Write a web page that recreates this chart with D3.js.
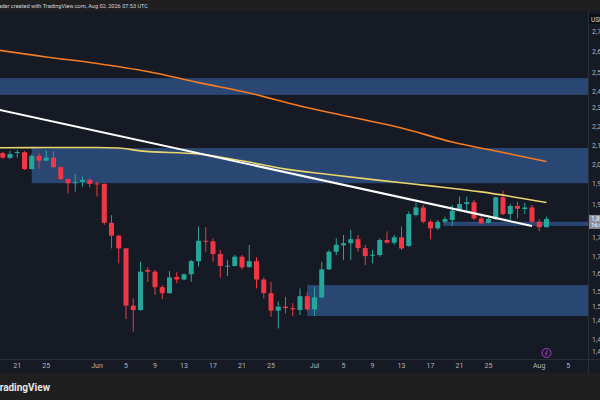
<!DOCTYPE html>
<html>
<head>
<meta charset="utf-8">
<script src="https://cdn.jsdelivr.net/npm/d3@7"></script>
<style>
  body { margin: 0; background: #1e1e1e; }
  svg { display: block; font-family: Roboto, "Liberation Sans", sans-serif; }
</style>
</head>
<body>
<div id="chart"></div>
<script>
// daily candles, May 19 – Aug 2 2026
const firstDay = '2026-05-19', lastDay = '2026-08-02';
const opens  = [2125,2104,2127,2129,2055,2113,2092,2105,2063,2012,1997,2001,2009,
                1994,1992,1836,1787,1740,1543,1529,1663,1657,1604,1584,1639,1630,1648,1694,1768,1766,
                1720,1677,1677,1710,1673,1694,1630,1584,1527,1540,1535,1529,1574,
                1531,1570,1665,1728,1751,1759,1774,1741,1716,1716,1771,1761,1781,1749,1866,1896,1840,
                1815,1840,1847,1883,1910,1917,1853,1836,1850,1937,1870,1902,1890,1896,
                1840,1819];
const highs  = [2130,2134,2139,2134,2120,2125,2139,2134,2066,2014,2033,2023,2016,
                2002,1994,1866,1790,1742,1567,1692,1673,1663,1611,1659,1655,1651,1698,1822,1819,1777,
                1734,1698,1716,1716,1753,1708,1637,1622,1556,1572,1551,1600,1586,
                1606,1692,1734,1777,1790,1809,1790,1753,1734,1777,1803,1790,1822,1880,1915,1906,1847,
                1847,1860,1906,1940,1940,1926,1870,1857,1940,1964,1910,1919,1915,1906,
                1850,1860];
const lows   = [2099,2099,2105,2051,2054,2058,2090,2058,2009,1953,1960,1981,1977,
                1940,1828,1740,1686,1500,1461,1526,1622,1578,1564,1582,1617,1628,1622,1675,1728,1692,
                1637,1642,1675,1665,1671,1600,1567,1507,1471,1518,1510,1513,1527,
                1510,1567,1663,1716,1698,1698,1728,1680,1686,1710,1758,1753,1734,1746,1860,1834,1774,
                1809,1834,1824,1880,1880,1847,1832,1834,1847,1866,1847,1853,1870,1836,
                1804,1819];
const closes = [2105,2121,2130,2055,2113,2092,2105,2063,2012,1995,1999,2009,1992,
                1990,1836,1787,1740,1543,1529,1657,1657,1604,1584,1637,1630,1648,1694,1768,1764,1720,
                1677,1678,1710,1672,1694,1630,1584,1527,1540,1535,1531,1574,1531,
                1570,1665,1728,1753,1759,1774,1741,1712,1717,1771,1761,1781,1740,1870,1896,1840,1815,
                1840,1850,1883,1910,1917,1853,1834,1851,1937,1870,1902,1891,1896,1840,
                1819,1851];

// moving averages, read at a few dates
const slowMaDates = ['2026-05-15','2026-05-25','2026-06-01','2026-06-08','2026-06-15','2026-06-22',
                     '2026-06-29','2026-07-06','2026-07-13','2026-07-20','2026-07-27','2026-08-02'];
const slowMaVals  = [2658,2600,2565,2522,2464,2411,2346,2292,2240,2175,2128,2088];
const fastMaDates = ['2026-05-15','2026-05-25','2026-06-01','2026-06-04','2026-06-07','2026-06-15',
                     '2026-06-21','2026-06-27','2026-07-03','2026-07-10','2026-07-17','2026-07-24','2026-08-02'];
const fastMaVals  = [2148,2150,2150,2148,2135,2121,2091,2055,2032,2007,1984,1959,1916];

// trend line
const trendDates = ['2026-05-15','2026-07-31'];
const trendVals  = [2354,1824];

// zones (extend right)
const zoneStarts  = ['2026-05-01','2026-05-23','2026-07-18T18:00Z','2026-06-30'];
const zoneTops    = [2487,2148,1840,1611];
const zoneBottoms = [2401,1995,1824,1510];

const yTicks = [2740,2630,2519,2418,2339,2246,2157,2073,1992,1906,1779,1709,1652,1588,1540,1495,1436,1400];
const xTicks = ['2026-05-21','2026-05-25','2026-06-01','2026-06-05','2026-06-09','2026-06-13','2026-06-17',
                '2026-06-21','2026-06-25','2026-07-01','2026-07-05','2026-07-09','2026-07-13','2026-07-17',
                '2026-07-21','2026-07-25','2026-08-01','2026-08-05'];

const W = 600, H = 400;
const P = { left: 0, right: 588, top: 11, bottom: 359 };
const UP = '#26a69a', DN = '#f23645', BG = '#161a25';

const svg = d3.select('#chart').append('svg').attr('width', W).attr('height', H);

svg.append('rect').attr('width', W).attr('height', H).attr('fill', BG);
svg.append('rect').attr('width', W).attr('height', P.top).attr('fill', '#1f1f1f');
svg.append('rect').attr('y', 373).attr('width', W).attr('height', H - 373).attr('fill', '#1f1f1f');

const x = d3.scaleUtc().domain([new Date('2026-06-01'), new Date('2026-08-01')]).range([97, 539.25]);
const y = d3.scaleLog().domain([1400, 2740]).range([352, 32]);

const days = d3.utcDay.range(new Date(firstDay), d3.utcDay.offset(new Date(lastDay), 1));
const bars = days.map((d, i) => ({ date: d, o: opens[i], h: highs[i], l: lows[i], c: closes[i] }));

svg.append('clipPath').attr('id', 'plot-clip').append('rect')
  .attr('x', P.left).attr('y', P.top).attr('width', P.right - P.left).attr('height', P.bottom - P.top);
const plot = svg.append('g').attr('clip-path', 'url(#plot-clip)');

// zones
zoneStarts.forEach((s, i) => {
  const x0 = x(new Date(s));
  plot.append('rect')
    .attr('x', x0).attr('width', P.right - x0)
    .attr('y', y(zoneTops[i])).attr('height', y(zoneBottoms[i]) - y(zoneTops[i]))
    .attr('fill', '#3d6bb3').attr('fill-opacity', .55);
});

// candles
const bw = 5;
plot.selectAll('.wick').data(bars).join('line').attr('class', 'wick')
  .attr('x1', d => x(d.date)).attr('x2', d => x(d.date))
  .attr('y1', d => y(d.h)).attr('y2', d => y(d.l))
  .attr('stroke', d => d.c >= d.o ? UP : DN).attr('stroke-width', 1);
plot.selectAll('.body').data(bars).join('rect').attr('class', 'body')
  .attr('x', d => x(d.date) - bw / 2).attr('width', bw)
  .attr('y', d => y(Math.max(d.o, d.c)))
  .attr('height', d => Math.max(1, Math.abs(y(d.o) - y(d.c))))
  .attr('fill', d => d.c >= d.o ? UP : DN);

// MAs + trend line
const line = d3.line().x(d => x(d[0])).y(d => y(d[1])).curve(d3.curveMonotoneX);
plot.append('path').datum(slowMaDates.map((d, i) => [new Date(d), slowMaVals[i]]))
  .attr('fill', 'none').attr('stroke', '#f57c20').attr('stroke-width', 1.6).attr('d', line);
plot.append('path').datum(fastMaDates.map((d, i) => [new Date(d), fastMaVals[i]]))
  .attr('fill', 'none').attr('stroke', '#e8d56e').attr('stroke-width', 1.6).attr('d', line);
plot.append('path').datum(trendDates.map((d, i) => [new Date(d), trendVals[i]]))
  .attr('fill', 'none').attr('stroke', '#ffffff').attr('stroke-width', 2)
  .attr('d', d3.line().x(d => x(d[0])).y(d => y(d[1])));

// events icon
const ex = x(new Date(lastDay)), ey = 353;
svg.append('circle').attr('cx', ex).attr('cy', ey).attr('r', 4.5)
  .attr('fill', '#1d1527').attr('stroke', '#a13fcf').attr('stroke-width', 1);
svg.append('path').attr('d', `M${ex + 1},${ey - 3}L${ex - 1.2},${ey + .3}L${ex + 1},${ey + .3}L${ex - 1},${ey + 3}`)
  .attr('fill', 'none').attr('stroke', '#a13fcf').attr('stroke-width', .8);

// borders
svg.append('line').attr('x1', P.right + .5).attr('x2', P.right + .5).attr('y1', P.top).attr('y2', 373)
  .attr('stroke', '#2a2e39');
svg.append('line').attr('x1', 0).attr('x2', W).attr('y1', P.bottom + .5).attr('y2', P.bottom + .5)
  .attr('stroke', '#2a2e39');

// price axis
const fmt = d3.format(',.2f');
svg.append('g').selectAll('text').data(yTicks).join('text')
  .attr('x', 592).attr('y', d => y(d)).attr('dy', '0.35em')
  .attr('fill', '#b2b5be').attr('font-size', 7).text(d => fmt(d));
svg.append('rect').attr('x', 589).attr('y', 14).attr('width', 14).attr('height', 10).attr('fill', '#0c0e14');
svg.append('text').attr('x', 591).attr('y', 21.5).attr('fill', '#d1d4dc').attr('font-size', 6.5).text('USD');

const last = bars[bars.length - 1];
const py = y(last.c);
svg.append('rect').attr('x', 589).attr('y', py - 4).attr('width', 14).attr('height', 14).attr('fill', '#8a8d97');
svg.append('text').attr('x', 591).attr('y', py + 2).attr('fill', '#fff').attr('font-size', 6.5).text(fmt(last.c));
svg.append('text').attr('x', 591).attr('y', py + 8.5).attr('fill', '#fff').attr('font-size', 6).text('16:06:53');

// time axis
const monthFmt = d3.utcFormat('%b');
svg.append('g').selectAll('text').data(xTicks.map(d => new Date(d))).join('text')
  .attr('x', d => x(d)).attr('y', 368).attr('text-anchor', 'middle')
  .attr('fill', '#b2b5be').attr('font-size', 7)
  .text(d => d.getUTCDate() === 1 ? monthFmt(d) : d.getUTCDate());

// header / footer
svg.append('text').attr('x', 148).attr('y', 7.5).attr('text-anchor', 'end')
  .attr('fill', '#d1d4dc').attr('font-size', 5.6)
  .text('ETHUSD chart by trader created with TradingView.com, Aug 02, 2026 07:53 UTC');
svg.append('text').attr('x', 50).attr('y', 391).attr('text-anchor', 'end')
  .attr('fill', '#e6e6e6').attr('font-size', 10).attr('font-weight', 700).text('TradingView');
</script>
</body>
</html>
